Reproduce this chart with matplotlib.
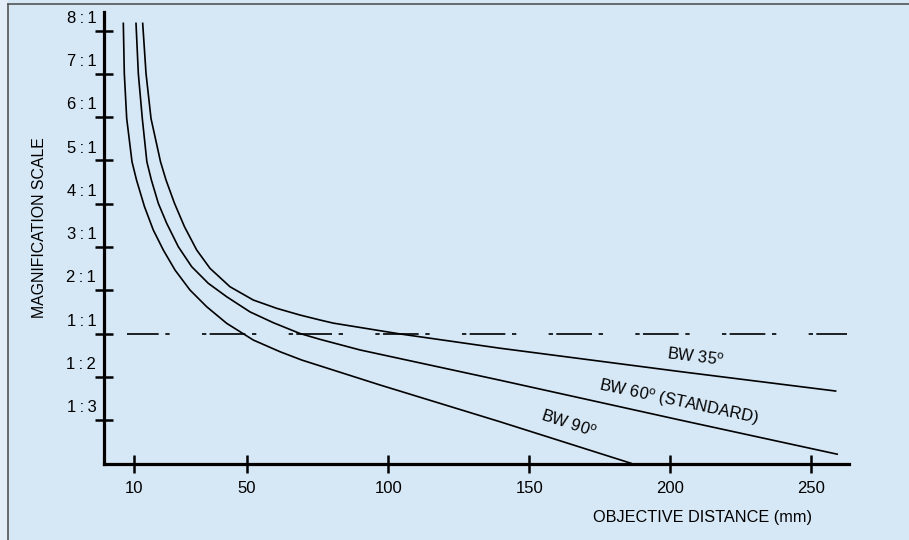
import matplotlib.pyplot as plt
from matplotlib.lines import Line2D
from matplotlib.patches import Rectangle

plt.rcParams['font.family'] = ['Liberation Sans', 'DejaVu Sans']
plt.rcParams['mathtext.fontset'] = 'custom'
plt.rcParams['mathtext.rm'] = 'Liberation Sans'
plt.rcParams['lines.scale_dashes'] = False

# magnification scale: index positions on the axis and their labels
scale_pos = [1, 2, 3, 4, 5, 6, 7, 8, 9, 10]
scale_labels = ['1\u2009:\u20093', '1\u2009:\u20092', '1\u2009:\u20091', '2\u2009:\u20091',
                '3\u2009:\u20091', '4\u2009:\u20091', '5\u2009:\u20091', '6\u2009:\u20091',
                '7\u2009:\u20091', '8\u2009:\u20091']
distance_ticks = [10, 50, 100, 150, 200, 250]

# objective distance (mm) vs magnification scale index
bw90_x = [6.1, 6.45, 7.3, 9.18, 10.78, 13.61, 16.73, 20.28, 24.43, 29.74, 35.66,
          42.75, 52.18, 61.65, 69.34, 97.1, 139.64, 186.1]
bw90_y = [10.17, 9.01, 7.97, 6.97, 6.548, 5.931, 5.392, 4.930, 4.467, 4.005, 3.619,
          3.235, 2.849, 2.579, 2.387, 1.81, 0.96, 0.0]

bw60_x = [10.6, 11.42, 12.83, 14.45, 16.05, 18.51, 21.48, 25.6, 30.35, 36.23, 42.75,
          51.01, 59.27, 68.74, 75.83, 90.01, 139.64, 203.45, 259.2]
bw60_y = [10.17, 9.01, 7.97, 6.97, 6.548, 6.009, 5.547, 5.006, 4.544, 4.160, 3.850,
          3.50, 3.25, 3.00, 2.865, 2.62, 1.92, 1.00, 0.21]

bw35_x = [12.97, 14.15, 15.92, 19.29, 21.24, 24.25, 27.79, 32.12, 36.83, 43.92, 52.18,
          60.48, 68.74, 75.83, 80.55, 104.19, 139.64, 203.45, 258.65]
bw35_y = [10.17, 9.01, 7.97, 6.97, 6.548, 6.009, 5.468, 4.930, 4.507, 4.081, 3.774,
          3.582, 3.427, 3.312, 3.24, 2.99, 2.66, 2.12, 1.67]

unity_x = [7.3, 262.7]
unity_y = [3, 3]

W, H = 909, 540
fig = plt.figure(figsize=(W / 100, H / 100), dpi=100)
fig.patch.set_facecolor('#d6e7f5')
fig.add_artist(Rectangle((0, 0), 8 / W, 1, transform=fig.transFigure,
                         facecolor='#e3eef9', edgecolor='none'))
fig.add_artist(Line2D([8 / W, 8 / W], [0, 1 - 3.5 / H], transform=fig.transFigure,
                      color='#555555', lw=1.2))
fig.add_artist(Line2D([8 / W, 1], [1 - 3.5 / H, 1 - 3.5 / H], transform=fig.transFigure,
                      color='#555555', lw=1.2))

ax = fig.add_axes([104 / W, 1 - 464.3 / H, 745 / W, 452.6 / H])
ax.set_facecolor('none')

ax.plot(bw90_x, bw90_y, color='black', lw=1.2)
ax.plot(bw60_x, bw60_y, color='black', lw=1.2)
ax.plot(bw35_x, bw35_y, color='black', lw=1.2)
ax.plot(unity_x, unity_y, color='black', lw=1.2,
        linestyle=(8.4, (3.1, 2.4, 25.7, 4.8, 3.1, 23.3)))

ax.set_xlim(-0.75, 263.4)
ax.set_ylim(-0.024, 10.44)

for s in ['top', 'right']:
    ax.spines[s].set_visible(False)
for s in ['left', 'bottom']:
    ax.spines[s].set_linewidth(2.3)

ax.set_xticks(distance_ticks)
ax.tick_params(axis='x', direction='inout', length=13, width=1.8, pad=5.5, labelsize=12)

ax.set_yticks(scale_pos)
ax.set_yticks([p + 0.32 for p in scale_pos], minor=True)
ax.set_yticklabels([])
ax.set_yticklabels(scale_labels, minor=True)
ax.tick_params(axis='y', which='major', direction='inout', length=13, width=1.8)
ax.tick_params(axis='y', which='minor', length=0, pad=5.5, labelsize=12)

ax.set_xlabel('OBJECTIVE DISTANCE (mm)', fontsize=11.7, ha='right', va='center')
ax.xaxis.set_label_coords(0.950, -0.118)
ax.set_ylabel('MAGNIFICATION SCALE', fontsize=11.4, va='center')
ax.yaxis.set_label_coords(-0.0864, 0.522)

ax.text(208.8, 2.46, r'BW 35$^{\mathrm{o}}$', fontsize=11.8, rotation=-7,
        ha='center', va='center', rotation_mode='anchor')
ax.text(202.9, 1.42, r'BW 60$^{\mathrm{o}}$ (STANDARD)', fontsize=11.8, rotation=-12,
        ha='center', va='center', rotation_mode='anchor')
ax.text(163.9, 0.92, r'BW 90$^{\mathrm{o}}$', fontsize=11.8, rotation=-18,
        ha='center', va='center', rotation_mode='anchor')

fig.savefig('out.png', dpi=100, facecolor=fig.get_facecolor())
